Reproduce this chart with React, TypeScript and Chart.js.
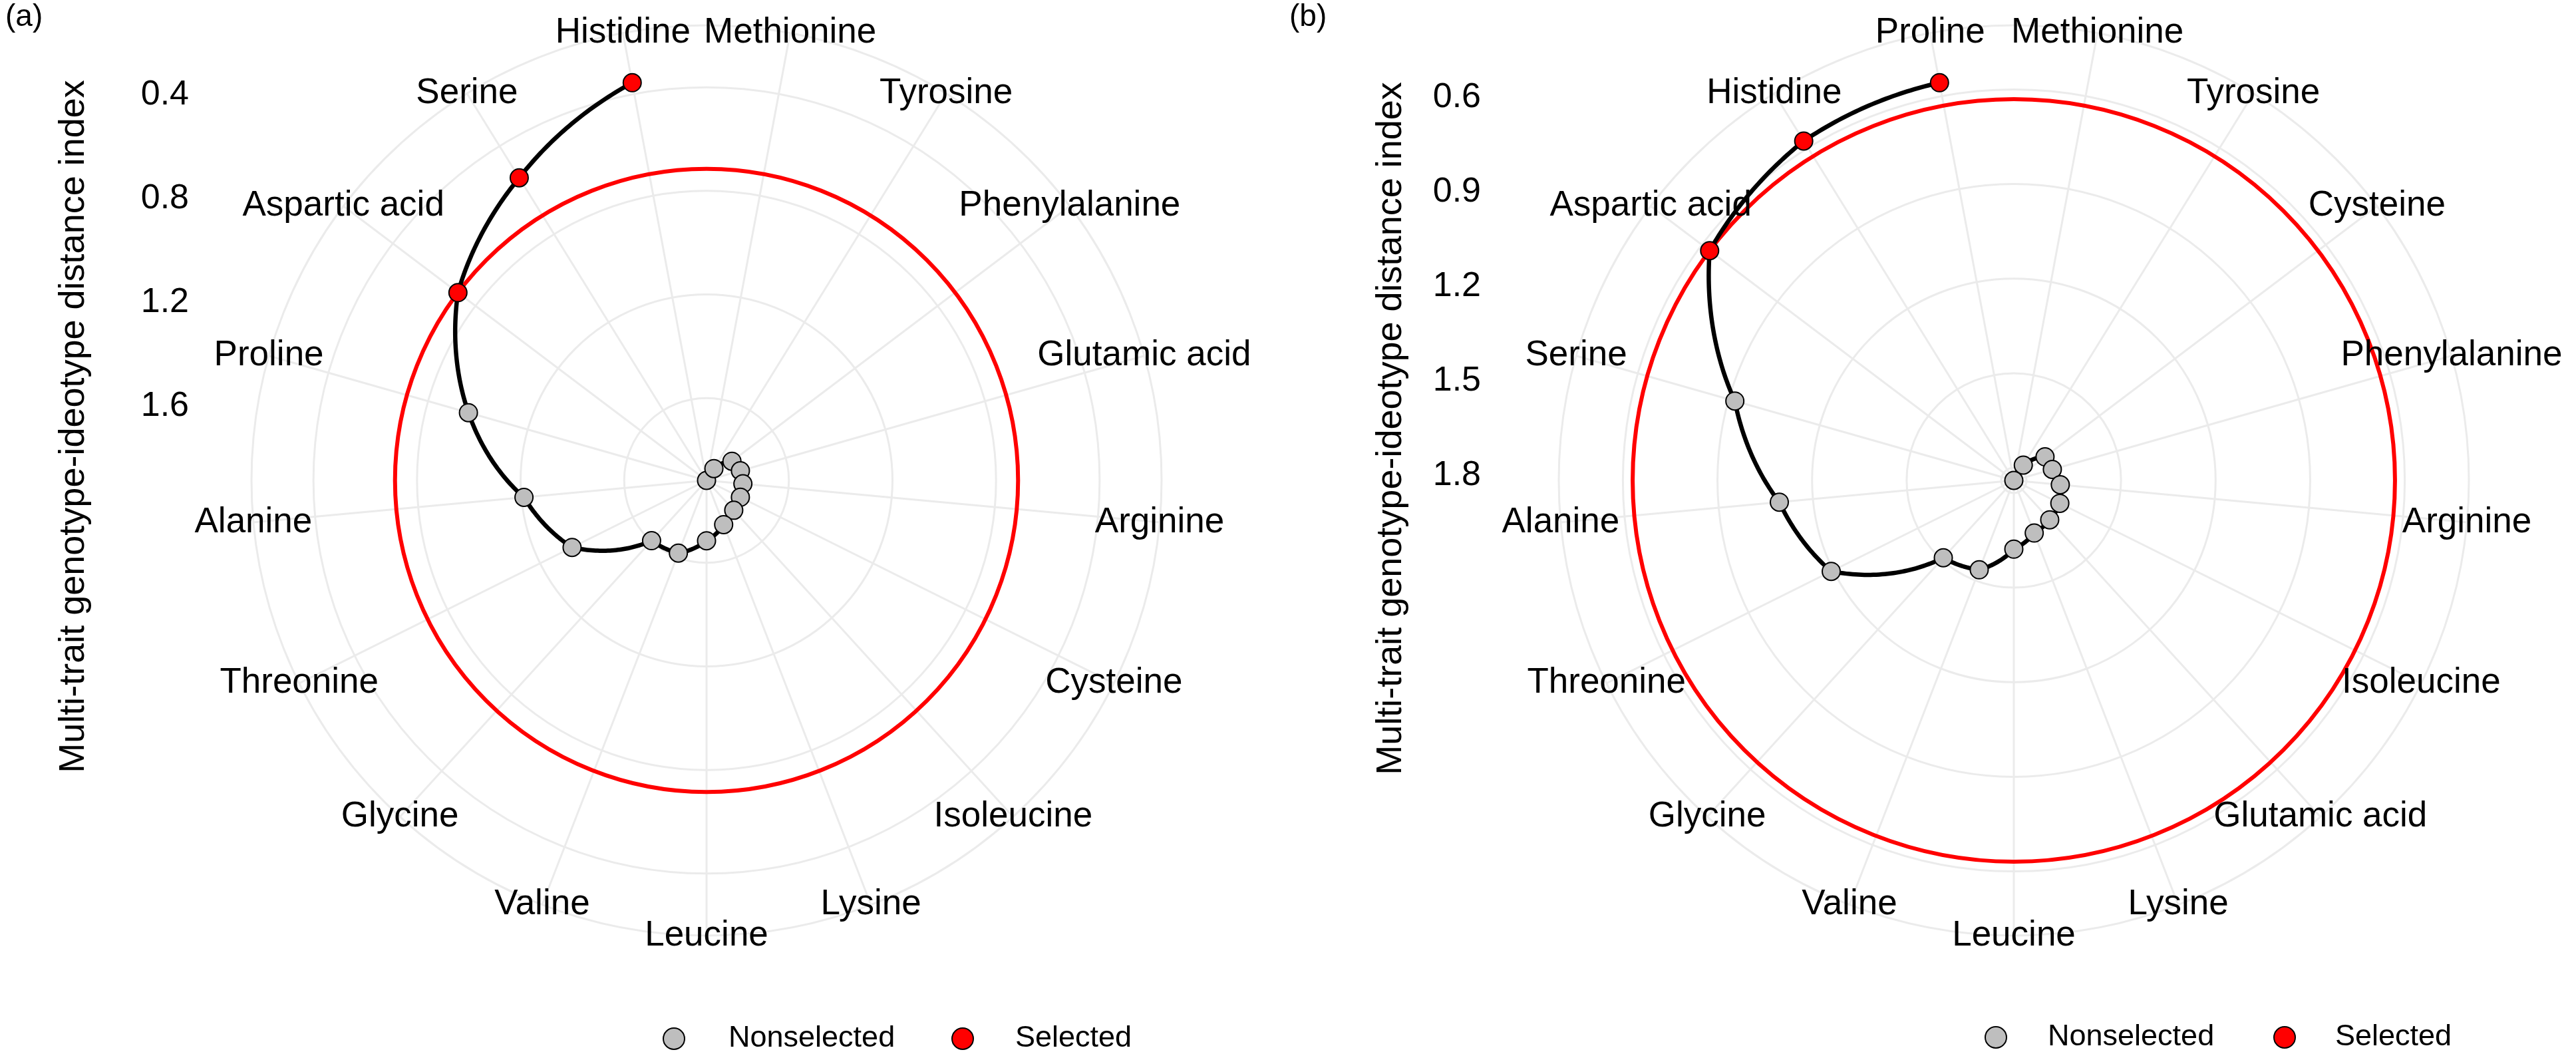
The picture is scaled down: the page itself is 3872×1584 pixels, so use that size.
import React, { useEffect, useRef } from 'react';
import { Chart, registerables } from 'chart.js';

Chart.register(...registerables);

// ---------------- data ----------------
const CATEGORIES_A = ['Methionine', 'Tyrosine', 'Phenylalanine', 'Glutamic acid', 'Arginine', 'Cysteine', 'Isoleucine', 'Lysine', 'Leucine', 'Valine', 'Glycine', 'Threonine', 'Alanine', 'Proline', 'Aspartic acid', 'Serine', 'Histidine'];
const MGIDI_A = [1.918, 1.864, 1.795, 1.782, 1.777, 1.772, 1.762, 1.735, 1.685, 1.617, 1.603, 1.338, 1.21, 0.962, 0.715, 0.544, 0.356];
const SELECTED_A = ['Aspartic acid', 'Serine', 'Histidine'];
const CUTPOINT_A = 0.715;
const TICKS_A = [0.4, 0.8, 1.2, 1.6];

const CATEGORIES_B = ['Methionine', 'Tyrosine', 'Cysteine', 'Phenylalanine', 'Arginine', 'Isoleucine', 'Glutamic acid', 'Lysine', 'Leucine', 'Valine', 'Glycine', 'Threonine', 'Alanine', 'Serine', 'Aspartic acid', 'Histidine', 'Proline'];
const MGIDI_B = [1.84, 1.783, 1.716, 1.713, 1.692, 1.677, 1.671, 1.661, 1.622, 1.536, 1.508, 1.193, 1.093, 0.92, 0.631, 0.574, 0.557];
const SELECTED_B = ['Aspartic acid', 'Histidine', 'Proline'];
const CUTPOINT_B = 0.631;
const TICKS_B = [0.6, 0.9, 1.2, 1.5, 1.8];

const AXIS_TITLE = 'Multi-trait genotype-ideotype distance index';
const LEGEND_LABELS = ['Nonselected', 'Selected'];

// ---------------- style / layout ----------------
const FONT = "'Liberation Sans', Arial, Helvetica, sans-serif";
const GREY = '#BEBEBE';
const RED = '#FF0000';
const GRID = '#EBEBEB';
const TICK_LABEL_SHIFT = 12;

const PANELS = [
  {
    tag: '(a)', cats: CATEGORIES_A, vals: MGIDI_A, sel: SELECTED_A, cut: CUTPOINT_A, ticks: TICKS_A,
    left: 0, pad: { left: 378, top: 38, right: 190, bottom: 178 },
    tickRight: 284, titleX: 111, titleY: 641, tagX: 8, tagY: 39,
    legY: 1561, legKey1: 1013, legText1: 1095, legKey2: 1447, legText2: 1526,
  },
  {
    tag: '(b)', cats: CATEGORIES_B, vals: MGIDI_B, sel: SELECTED_B, cut: CUTPOINT_B, ticks: TICKS_B,
    left: 1936, pad: { left: 407, top: 38, right: 161, bottom: 178 },
    tickRight: 290, titleX: 155, titleY: 644, tagX: 2, tagY: 39,
    legY: 1559, legKey1: 1064, legText1: 1142, legKey2: 1498, legText2: 1574,
  },
];

const W = 1936;
const H = 1584;

function makeDecor(p: any) {
  return {
    id: 'mgidiDecor',
    beforeDatasetsDraw(chart: any) {
      const s = chart.scales.r;
      const ctx = chart.ctx;
      ctx.save();
      // cut point circle
      ctx.beginPath();
      ctx.arc(s.xCenter, s.yCenter, s.getDistanceFromCenterForValue(p.cut), 0, Math.PI * 2);
      ctx.strokeStyle = RED;
      ctx.lineWidth = 6;
      ctx.stroke();
      // path (linear in angle/value space, like a polar path)
      ctx.beginPath();
      const v = p.vals;
      for (let i = 0; i < v.length - 1; i++) {
        const steps = 40;
        for (let k = 0; k <= steps; k++) {
          const t = k / steps;
          const pt = s.getPointPositionForValue(i + t, v[i] + t * (v[i + 1] - v[i]));
          if (i === 0 && k === 0) ctx.moveTo(pt.x, pt.y);
          else ctx.lineTo(pt.x, pt.y);
        }
      }
      ctx.strokeStyle = '#000';
      ctx.lineWidth = 6.5;
      ctx.lineJoin = 'round';
      ctx.stroke();
      ctx.restore();
    },
    afterDraw(chart: any) {
      const s = chart.scales.r;
      const ctx = chart.ctx;
      ctx.save();
      ctx.fillStyle = '#000';
      // category labels centred on the outer circle
      ctx.font = `53px ${FONT}`;
      ctx.textAlign = 'center';
      ctx.textBaseline = 'middle';
      p.cats.forEach((c: string, i: number) => {
        const pos = s.getPointPosition(i, s.drawingArea);
        ctx.fillText(c, pos.x, pos.y);
      });
      // radial tick labels on the left
      ctx.font = `52px ${FONT}`;
      ctx.textAlign = 'right';
      p.ticks.forEach((t: number) => {
        const y = s.yCenter - s.getDistanceFromCenterForValue(t) + TICK_LABEL_SHIFT;
        ctx.fillText(t.toFixed(1), p.tickRight, y);
      });
      // axis title
      ctx.save();
      ctx.translate(p.titleX, p.titleY);
      ctx.rotate(-Math.PI / 2);
      ctx.font = `54px ${FONT}`;
      ctx.textAlign = 'center';
      ctx.textBaseline = 'middle';
      ctx.fillText(AXIS_TITLE, 0, 0);
      ctx.restore();
      // panel tag
      ctx.font = `46px ${FONT}`;
      ctx.textAlign = 'left';
      ctx.textBaseline = 'alphabetic';
      ctx.fillText(p.tag, p.tagX, p.tagY);
      // legend
      const keys = [[p.legKey1, p.legText1, GREY], [p.legKey2, p.legText2, RED]];
      keys.forEach(([kx, tx, col]: any, i: number) => {
        ctx.beginPath();
        ctx.arc(kx, p.legY, 16, 0, Math.PI * 2);
        ctx.fillStyle = col;
        ctx.fill();
        ctx.lineWidth = 2;
        ctx.strokeStyle = '#000';
        ctx.stroke();
        ctx.fillStyle = '#000';
        ctx.font = `45px ${FONT}`;
        ctx.textAlign = 'left';
        ctx.textBaseline = 'middle';
        ctx.fillText(LEGEND_LABELS[i], tx, p.legY);
      });
      ctx.restore();
    },
  };
}

function Panel({ p }: { p: any }) {
  const ref = useRef<HTMLCanvasElement>(null);
  useEffect(() => {
    const maxV = Math.max(...p.vals);
    const minV = Math.min(...p.vals);
    const outer = minV - 0.125 * (maxV - minV); // outer ring at 0.45 vs data edge at 0.40
    const chart = new Chart(ref.current as HTMLCanvasElement, {
      type: 'radar',
      data: {
        labels: p.cats,
        datasets: [
          {
            data: p.vals,
            showLine: false,
            fill: false,
            borderWidth: 0,
            borderColor: 'rgba(0,0,0,0)',
            pointRadius: 13.5,
            pointHoverRadius: 13.5,
            pointBorderWidth: 2,
            pointBorderColor: '#000',
            pointBackgroundColor: p.cats.map((c: string) => (p.sel.includes(c) ? RED : GREY)),
          },
        ],
      },
      options: {
        responsive: false,
        animation: false,
        events: [],
        layout: { padding: p.pad },
        plugins: { legend: { display: false }, tooltip: { enabled: false } },
        scales: {
          r: {
            reverse: true,
            min: outer,
            max: maxV,
            startAngle: 180 / p.cats.length,
            grid: { circular: true, color: GRID, lineWidth: 3 },
            angleLines: { display: true, color: GRID, lineWidth: 3 },
            ticks: { display: false },
            pointLabels: { display: false },
            afterBuildTicks: (s: any) => {
              s.ticks = [maxV, outer, ...p.ticks].map((v: number) => ({ value: v }));
            },
          },
        },
      } as any,
      plugins: [makeDecor(p)],
    });
    return () => chart.destroy();
  }, []);
  return (
    <canvas
      ref={ref}
      width={W}
      height={H}
      style={{ position: 'absolute', left: p.left, top: 0, width: W, height: H }}
    />
  );
}

export default function App() {
  return (
    <div style={{ position: 'absolute', left: 0, top: 0, width: 3872, height: 1584, background: '#fff', overflow: 'hidden' }}>
      {PANELS.map((p) => (
        <Panel key={p.tag} p={p} />
      ))}
    </div>
  );
}
